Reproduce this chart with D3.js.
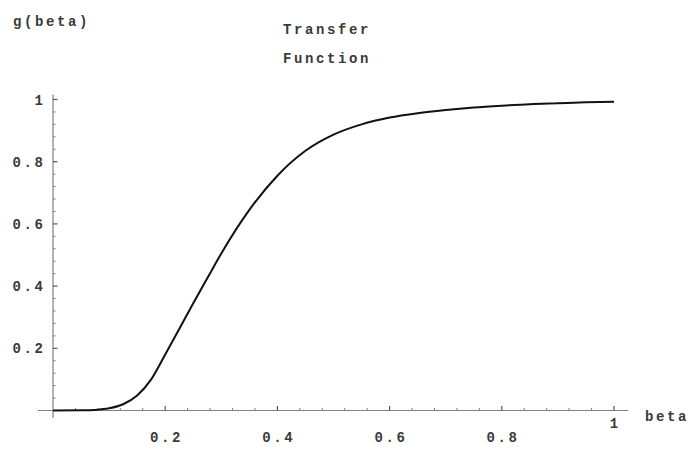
<!DOCTYPE html>
<html>
<head>
<meta charset="utf-8">
<script src="https://cdn.jsdelivr.net/npm/d3@7"></script>
<style>
  html, body { margin: 0; padding: 0; background: #fff; }
  svg { display: block; }
  text { font-family: "Liberation Mono", "DejaVu Sans Mono", monospace; fill: #3a3a3a; font-weight: bold; }
</style>
</head>
<body>
<svg id="chart" width="693" height="451"></svg>
<script>
// Data (beta, g(beta))
const betaValues = [0, 0.05, 0.075, 0.1, 0.125, 0.15, 0.175, 0.2, 0.225, 0.25, 0.275, 0.3, 0.35, 0.4, 0.45, 0.5, 0.55, 0.6, 0.65, 0.7, 0.75, 0.8, 0.85, 0.9, 0.95, 1.0];
const gValues    = [0, 0.0005, 0.002, 0.007, 0.02, 0.048, 0.10, 0.18, 0.262, 0.345, 0.425, 0.505, 0.645, 0.755, 0.835, 0.887, 0.92, 0.942, 0.956, 0.966, 0.974, 0.98, 0.985, 0.988, 0.991, 0.993];
const xTickLabels = [0.2, 0.4, 0.6, 0.8];
const xLastTick = [1];
const yTickLabels = [0.2, 0.4, 0.6, 0.8, 1];
const titleLines = ["Transfer", "Function"];
const yAxisTitle = "g(beta)";
const xAxisTitle = "beta";

const svg = d3.select("#chart");
const x = d3.scaleLinear().domain([0, 1]).range([53, 614]);
const y = d3.scaleLinear().domain([0, 1]).range([410.5, 99.5]);

const axisColor = "#808080";
const LS = 2.6; // letter spacing
const fs = 14;

// x axis line
svg.append("line")
  .attr("x1", x(-0.027)).attr("x2", x(1.025))
  .attr("y1", y(0)).attr("y2", y(0))
  .attr("stroke", axisColor).attr("stroke-width", 1.2);
// y axis line
svg.append("line")
  .attr("x1", x(0)).attr("x2", x(0))
  .attr("y1", y(1.016)).attr("y2", y(-0.024))
  .attr("stroke", axisColor).attr("stroke-width", 1.2);

// minor ticks every 0.04
const minor = d3.range(1, 26).map(i => +(i * 0.04).toFixed(2)).filter(v => Math.abs(v * 5 - Math.round(v * 5)) > 1e-6);
const major = [0.2, 0.4, 0.6, 0.8, 1];

svg.append("g").selectAll("line").data(minor).join("line")
  .attr("x1", d => x(d)).attr("x2", d => x(d))
  .attr("y1", y(0)).attr("y2", y(0) - 2.5)
  .attr("stroke", axisColor).attr("stroke-width", 1);
svg.append("g").selectAll("line").data(major).join("line")
  .attr("x1", d => x(d)).attr("x2", d => x(d))
  .attr("y1", y(0)).attr("y2", y(0) - 4.5)
  .attr("stroke", "#555").attr("stroke-width", 1.2);

svg.append("g").selectAll("line").data(minor.filter(v => v <= 1.0001)).join("line")
  .attr("x1", x(0)).attr("x2", x(0) + 2.5)
  .attr("y1", d => y(d)).attr("y2", d => y(d))
  .attr("stroke", axisColor).attr("stroke-width", 1);
svg.append("g").selectAll("line").data(major).join("line")
  .attr("x1", x(0)).attr("x2", x(0) + 4.5)
  .attr("y1", d => y(d)).attr("y2", d => y(d))
  .attr("stroke", "#555").attr("stroke-width", 1.2);

// tick labels
const fmt = d => (d === 1 ? "1" : d3.format(".1f")(d));
svg.append("g").selectAll("text").data(xTickLabels).join("text")
  .attr("x", d => x(d) + LS / 2).attr("y", 442)
  .attr("text-anchor", "middle")
  .attr("font-size", fs).attr("letter-spacing", LS)
  .text(fmt);
svg.append("g").selectAll("text").data(xLastTick).join("text")
  .attr("x", d => x(d) + LS / 2).attr("y", 428)
  .attr("text-anchor", "middle")
  .attr("font-size", fs).attr("letter-spacing", LS)
  .text(fmt);
svg.append("g").selectAll("text").data(yTickLabels).join("text")
  .attr("x", 43 + LS).attr("y", d => y(d) + 5)
  .attr("text-anchor", "end")
  .attr("font-size", fs).attr("letter-spacing", LS)
  .text(fmt);

// axis titles
svg.append("text").attr("x", 13).attr("y", 26)
  .attr("font-size", fs).attr("letter-spacing", LS).text(yAxisTitle);
svg.append("text").attr("x", 645).attr("y", 421)
  .attr("font-size", fs).attr("letter-spacing", LS).text(xAxisTitle);

// title
svg.append("g").selectAll("text").data(titleLines).join("text")
  .attr("x", 283).attr("y", (d, i) => 34 + i * 29)
  .attr("font-size", fs).attr("letter-spacing", LS)
  .text(d => d);

// curve
const pts = betaValues.map((b, i) => [b, gValues[i]]);
const line = d3.line().x(d => x(d[0])).y(d => y(d[1])).curve(d3.curveMonotoneX);
svg.append("path").datum(pts)
  .attr("d", line)
  .attr("fill", "none")
  .attr("stroke", "#111")
  .attr("stroke-width", 2);
</script>
</body>
</html>
